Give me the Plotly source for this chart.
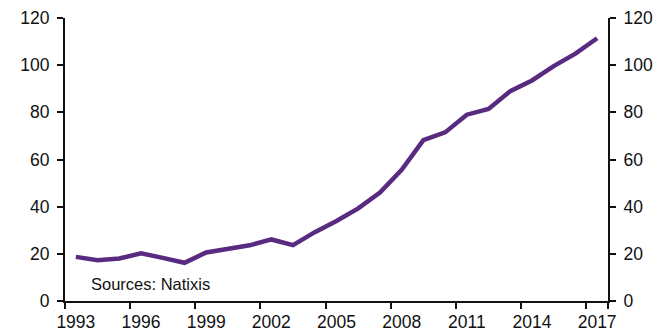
import plotly.graph_objects as go

# Annual series, 1993-2017
years = [str(y) for y in range(1993, 2018)]
values = [18.7, 17.3, 18.0, 20.2, 18.3, 16.2, 20.6, 22.3, 23.6, 26.1,
          23.7, 29.2, 33.9, 39.3, 46.0, 55.6, 68.2, 71.5, 79.0, 81.4,
          89.0, 93.5, 99.6, 104.9, 111.4]
year_ticks = ["1993", "1996", "1999", "2002", "2005", "2008", "2011", "2014", "2017"]
y_ticks = [0, 20, 40, 60, 80, 100, 120]
source_note = "Sources: Natixis"

LINE_COLOR = "#582a80"
TEXT_COLOR = "#111111"
FONT = "Liberation Sans, Arial, sans-serif"

fig = go.Figure()
fig.add_trace(go.Scatter(
    x=years, y=values, mode="lines",
    line=dict(color=LINE_COLOR, width=4.5),
    hoverinfo="skip", showlegend=False,
))
# companion trace so the right-hand axis is rendered
fig.add_trace(go.Scatter(
    x=years, y=values, mode="lines", yaxis="y2",
    line=dict(color="rgba(0,0,0,0)", width=0),
    hoverinfo="skip", showlegend=False,
))

axis_common = dict(
    range=[0, 120], tickvals=y_ticks, ticks="outside", ticklen=6,
    tickwidth=1.5, tickcolor="#111111", showline=True, linewidth=2,
    linecolor="#111111", showgrid=False, zeroline=False, automargin=False,
    ticklabelstandoff=4,
    tickfont=dict(family=FONT, size=17.5, color=TEXT_COLOR),
)

fig.update_layout(
    width=660, height=335,
    margin=dict(l=65, r=52, t=18, b=34),
    paper_bgcolor="white", plot_bgcolor="white",
    xaxis=dict(
        type="category", tickson="boundaries", tickvals=year_ticks,
        ticks="outside", ticklen=6, tickwidth=1.5, tickcolor="#111111",
        showline=True, linewidth=2, linecolor="#111111", showgrid=False,
        tickangle=0, automargin=False, ticklabelstandoff=4,
        tickfont=dict(family=FONT, size=17.5, color=TEXT_COLOR),
        range=[-0.5, 24.5],
    ),
    yaxis=dict(side="left", **axis_common),
    yaxis2=dict(side="right", overlaying="y", **axis_common),
    annotations=[dict(
        text=source_note, xref="paper", yref="y", x=0.045, y=7.1,
        xanchor="left", yanchor="middle", showarrow=False,
        font=dict(family=FONT, size=16.5, color=TEXT_COLOR),
    )],
)

fig.write_html("out.html")
